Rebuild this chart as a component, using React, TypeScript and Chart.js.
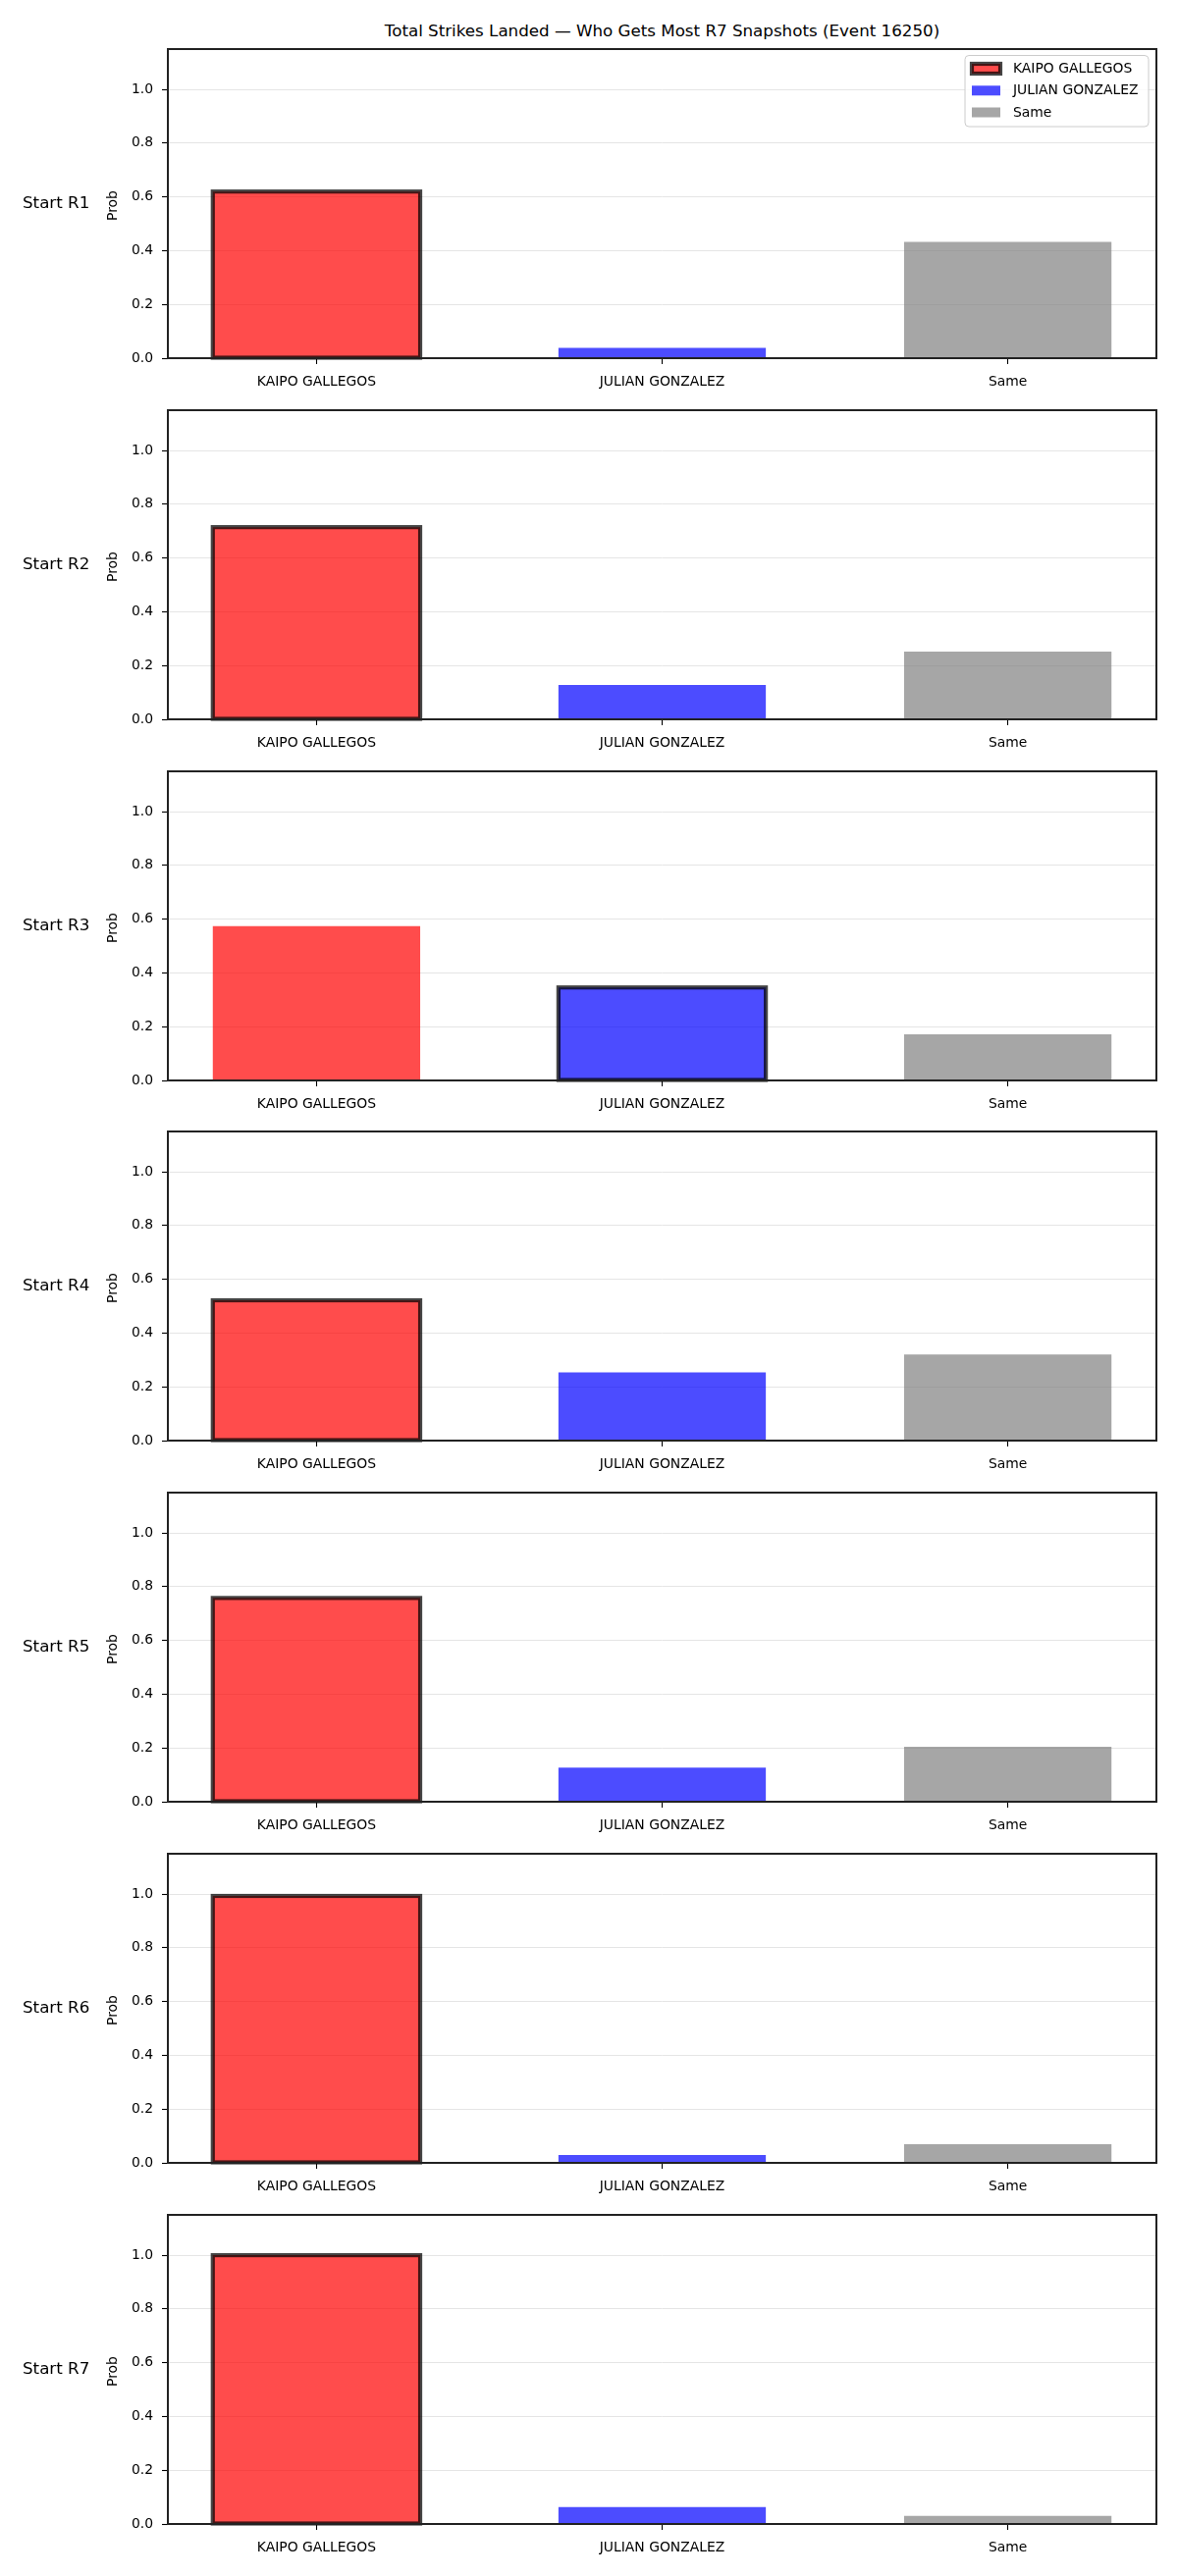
import { useEffect, useRef } from 'react';
import { Chart, registerables } from 'chart.js';

Chart.register(...registerables);

// ---- data ----
const chartTitle = 'Total Strikes Landed — Who Gets Most R7 Snapshots (Event 16250)';
const categories = ['KAIPO GALLEGOS', 'JULIAN GONZALEZ', 'Same'];
const roundLabels = ['Start R1', 'Start R2', 'Start R3', 'Start R4', 'Start R5', 'Start R6', 'Start R7'];
const kaipoProb = [0.62, 0.715, 0.574, 0.522, 0.758, 0.993, 1.0];
const julianProb = [0.038, 0.128, 0.346, 0.254, 0.127, 0.029, 0.063];
const sameProb = [0.433, 0.252, 0.172, 0.32, 0.204, 0.069, 0.03];
// index of the outlined bar in each panel
const outlinedBar = [0, 0, 1, 0, 0, 0, 0];
const yTickValues = [0, 0.2, 0.4, 0.6, 0.8, 1.0];
const yAxisLabel = 'Prob';

// ---- styling / layout ----
const FONT = "'DejaVu Sans', 'Liberation Sans', sans-serif";
const barFills = ['rgba(255,0,0,0.7)', 'rgba(0,0,255,0.7)', 'rgba(128,128,128,0.7)'];
const OUTLINE = 'rgba(0,0,0,0.73)';
const OUTLINE_W = 4.2;
const FIG_W = 1200;
const FIG_H = 2625;
const PLOT_LEFT = 171;
const PLOT_RIGHT = 1178;
const FIRST_TOP = 50;
const PLOT_H = 315;
const PITCH = 367.83;
const PAD_TOP = 20;
const X_AXIS_H = 33;
const CANVAS_H = PAD_TOP + PLOT_H + X_AXIS_H;

Chart.defaults.font.family = FONT;
Chart.defaults.font.size = 13.9;
Chart.defaults.color = '#000';

function drawLegend(ctx: CanvasRenderingContext2D, offsetY: number) {
  const x0 = 983;
  const y0 = 56.5 - offsetY;
  const w = 187;
  const h = 72.5;
  ctx.save();
  ctx.beginPath();
  ctx.roundRect(x0, y0, w, h, 4);
  ctx.fillStyle = 'rgba(255,255,255,0.8)';
  ctx.fill();
  ctx.strokeStyle = '#cccccc';
  ctx.lineWidth = 1;
  ctx.stroke();
  const rowY = [70, 92.3, 114.5];
  categories.forEach((name, i) => {
    const cy = rowY[i] - offsetY;
    ctx.fillStyle = barFills[i];
    ctx.fillRect(990, cy - 5, 29, 10);
    if (i === 0) {
      ctx.strokeStyle = OUTLINE;
      ctx.lineWidth = OUTLINE_W;
      ctx.lineJoin = 'miter';
      ctx.strokeRect(990, cy - 5, 29, 10);
    }
    ctx.fillStyle = '#000';
    ctx.font = `13.9px ${FONT}`;
    ctx.textAlign = 'left';
    ctx.textBaseline = 'middle';
    ctx.fillText(name, 1032, cy + 0.5);
  });
  ctx.restore();
}

function Panel({ index }: { index: number }) {
  const ref = useRef<HTMLCanvasElement>(null);
  const top = Math.round(FIRST_TOP + index * PITCH - PAD_TOP);

  useEffect(() => {
    const values = [kaipoProb[index], julianProb[index], sameProb[index]];
    const decor = {
      id: 'panelDecor',
      afterDatasetsDraw(chart: any) {
        const { ctx } = chart;
        const el = chart.getDatasetMeta(0).data[outlinedBar[index]];
        if (!el) return;
        const p = el.getProps(['x', 'y', 'base', 'width'], true);
        ctx.save();
        ctx.strokeStyle = OUTLINE;
        ctx.lineWidth = OUTLINE_W;
        ctx.lineJoin = 'miter';
        ctx.strokeRect(p.x - p.width / 2, p.y, p.width, p.base - p.y);
        ctx.restore();
      },
      afterDraw(chart: any) {
        const { ctx, chartArea } = chart;
        ctx.save();
        // axes frame
        ctx.strokeStyle = '#222';
        ctx.lineWidth = 2;
        ctx.strokeRect(chartArea.left, chartArea.top, chartArea.right - chartArea.left, chartArea.bottom - chartArea.top);
        const midY = (chartArea.top + chartArea.bottom) / 2;
        // row label
        ctx.fillStyle = '#000';
        ctx.font = `16.7px ${FONT}`;
        ctx.textAlign = 'left';
        ctx.textBaseline = 'middle';
        ctx.fillText(roundLabels[index], 23, midY);
        // y-axis title
        ctx.translate(115, midY + 2);
        ctx.rotate(-Math.PI / 2);
        ctx.font = `13.9px ${FONT}`;
        ctx.textAlign = 'center';
        ctx.fillText(yAxisLabel, 0, 0);
        ctx.restore();
        if (index === 0) drawLegend(ctx, top);
      },
    };

    const chart = new Chart(ref.current!, {
      type: 'bar',
      data: {
        datasets: [
          {
            data: values.map((v, i) => ({ x: i, y: v })),
            backgroundColor: barFills,
            borderWidth: 0,
            categoryPercentage: 0.6,
            barPercentage: 1,
          } as any,
        ],
      },
      options: {
        responsive: false,
        animation: false,
        layout: { padding: { top: PAD_TOP, right: FIG_W - PLOT_RIGHT, bottom: 0, left: 0 } },
        plugins: { legend: { display: false }, tooltip: { enabled: false } },
        events: [],
        scales: {
          x: {
            type: 'linear',
            offset: false,
            min: -0.43,
            max: 2.43,
            afterBuildTicks: (s: any) => {
              s.ticks = categories.map((_, i) => ({ value: i }));
            },
            afterFit: (s: any) => {
              s.height = X_AXIS_H;
            },
            ticks: {
              autoSkip: false,
              maxRotation: 0,
              padding: 10,
              color: '#000',
              callback: (v: any) => categories[Number(v)] ?? '',
            },
            grid: {
              offset: false,
              drawOnChartArea: false,
              tickLength: 6,
              tickColor: '#000',
              tickWidth: 1.1,
            },
            border: { display: false },
          },
          y: {
            type: 'linear',
            min: 0,
            max: 1.15,
            afterBuildTicks: (s: any) => {
              s.ticks = yTickValues.map((v) => ({ value: v }));
            },
            afterFit: (s: any) => {
              s.width = PLOT_LEFT;
            },
            ticks: {
              padding: 9,
              color: '#000',
              callback: (v: any) => Number(v).toFixed(1),
            },
            grid: { color: '#e5e5e5', lineWidth: 1, tickColor: '#000', tickLength: 6, tickWidth: 1.1 },
            border: { display: false },
          },
        },
      } as any,
      plugins: [decor],
    });
    return () => chart.destroy();
  }, [index, top]);

  return (
    <canvas
      ref={ref}
      width={FIG_W}
      height={CANVAS_H}
      style={{ position: 'absolute', left: 0, top, width: FIG_W, height: CANVAS_H }}
    />
  );
}

export default function App() {
  return (
    <div
      style={{
        position: 'absolute',
        left: 0,
        top: 0,
        width: FIG_W,
        height: FIG_H,
        background: '#fff',
        overflow: 'hidden',
      }}
    >
      <div
        style={{
          position: 'absolute',
          left: PLOT_LEFT,
          width: PLOT_RIGHT - PLOT_LEFT,
          top: 21,
          lineHeight: '20px',
          textAlign: 'center',
          fontFamily: FONT,
          fontSize: 16.7,
          color: '#000',
        }}
      >
        {chartTitle}
      </div>
      {roundLabels.map((_, i) => (
        <Panel key={i} index={i} />
      ))}
    </div>
  );
}
